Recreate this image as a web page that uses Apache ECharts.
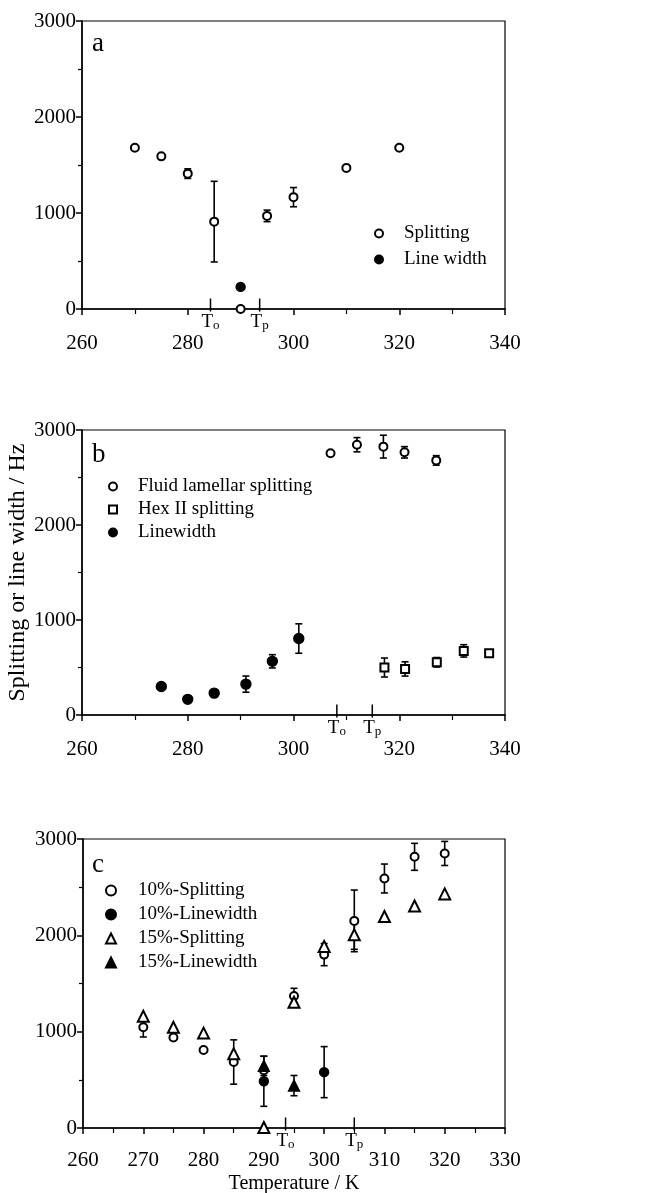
<!DOCTYPE html>
<html>
<head>
<meta charset="utf-8">
<script src="https://cdn.jsdelivr.net/npm/echarts@6/dist/echarts.min.js"></script>
<style>
  html, body { margin: 0; padding: 0; background: #fff; }
  #chart { width: 652px; height: 1193px; }
</style>
</head>
<body>
<div id="chart"></div>
<script>
// each point: [temperature, value, error half-height (0 = none)]
// panel a
const aSplitting = [[270,1680,0],[275,1590,0],[280,1410,50],[285,910,420],[290,0,0],[295,970,60],[300,1165,100],[310,1470,0],[320,1680,0]];
const aLineWidth = [[290,230,0]];
const aMarks = [[284.3,'o'],[293.6,'p']];

// panel b
const bFluid = [[307,2755,0],[312,2845,75],[317,2825,120],[321,2765,60],[327,2680,50]];
const bHex = [[317.2,500,100],[321.1,485,75],[327.1,555,50],[332.2,675,65],[337,650,0]];
const bLinewidth = [[275,300,0],[280,165,0],[285,230,0],[291,325,85],[296,565,70],[301,805,155]];
const bMarks = [[308.2,'o'],[314.9,'p']];

// panel c
const c10Split = [[270,1045,100],[275,940,0],[280,810,0],[285,685,230],[290,600,0],[295,1370,80],[300,1800,115],[305,2150,320],[310,2590,150],[315,2815,140],[320,2850,125]];
const c10Width = [[290,485,260],[300,580,265]];
const c15Split = [[270,1160,0],[275,1045,0],[280,985,0],[285,770,0],[290,5,0],[295,1305,0],[300,1885,0],[305,2005,150],[310,2195,0],[315,2305,0],[320,2430,0]];
const c15Width = [[290,645,100],[295,440,105]];
const cMarks = [[293.6,'o'],[305,'p']];

const FONT = 'Liberation Serif';
const INK = '#000';

function errorBars(data, gi) {
  return {
    type: 'custom', xAxisIndex: gi, yAxisIndex: gi, silent: true, z: 1,
    encode: { x: 0, y: 1 },
    data: data.filter(d => d[2] > 0),
    renderItem: (params, api) => {
      const x = api.value(0), y = api.value(1), e = api.value(2);
      const hi = api.coord([x, y + e]);
      const lo = api.coord([x, y - e]);
      const w = 3.5;
      const st = { stroke: INK, lineWidth: 1.6 };
      return {
        type: 'group', children: [
          { type: 'line', shape: { x1: hi[0], y1: hi[1], x2: lo[0], y2: lo[1] }, style: st },
          { type: 'line', shape: { x1: hi[0] - w, y1: hi[1], x2: hi[0] + w, y2: hi[1] }, style: st },
          { type: 'line', shape: { x1: lo[0] - w, y1: lo[1], x2: lo[0] + w, y2: lo[1] }, style: st }
        ]
      };
    }
  };
}

function points(name, data, gi, symbol, size) {
  return {
    name, type: 'scatter', xAxisIndex: gi, yAxisIndex: gi, z: 3, silent: true,
    data: data.map(d => [d[0], d[1]]),
    symbol, symbolSize: size,
    itemStyle: { color: INK, borderColor: INK, borderWidth: 1.4, opacity: 1 }
  };
}

// transition temperature markers To / Tp on the x axis
function tMarks(data, gi) {
  return {
    type: 'scatter', xAxisIndex: gi, yAxisIndex: gi, z: 4, silent: true,
    data: data.map(d => ({ value: [d[0], 0], sub: d[1] })),
    symbol: 'rect', symbolSize: [1.5, 13], symbolOffset: [0, -4],
    itemStyle: { color: INK, opacity: 1 },
    label: {
      show: true, position: 'bottom', distance: 1,
      formatter: p => '{t|T}{s|' + p.data.sub + '}',
      rich: {
        t: { fontFamily: FONT, fontSize: 19, color: INK, lineHeight: 20 },
        s: { fontFamily: FONT, fontSize: 13, color: INK, verticalAlign: 'bottom', lineHeight: 20 }
      }
    }
  };
}

function xAxis(gi, max, name) {
  return {
    gridIndex: gi, type: 'value', min: 260, max: max, interval: max === 340 ? 20 : 10,
    name: name || '', nameLocation: 'middle', nameGap: 46, nameMoveOverlap: false,
    nameTextStyle: { fontFamily: FONT, fontSize: 20, color: INK },
    axisLine: { onZero: false, lineStyle: { color: INK, width: 1.5 } },
    axisTick: { length: 6, lineStyle: { color: INK, width: 1.5 } },
    minorTick: { show: true, splitNumber: 2, length: 5, lineStyle: { color: INK, width: 1.2 } },
    axisLabel: { fontFamily: FONT, fontSize: 21, color: INK, margin: gi === 2 ? 22 : 24, formatter: v => String(v) },
    splitLine: { show: false }
  };
}

function yAxis(gi, name) {
  return {
    gridIndex: gi, type: 'value', min: 0, max: 3000, interval: 1000,
    name: name || '', nameLocation: 'middle', nameGap: 52, nameMoveOverlap: false,
    nameTextStyle: { fontFamily: FONT, fontSize: 24, color: INK },
    axisLine: { lineStyle: { color: INK, width: 1.5 } },
    axisTick: { length: 6, lineStyle: { color: INK, width: 1.5 } },
    minorTick: { show: true, splitNumber: 2, length: 4, lineStyle: { color: INK, width: 1.2 } },
    axisLabel: { fontFamily: FONT, fontSize: 21, color: INK, margin: 6, formatter: v => String(v) },
    splitLine: { show: false }
  };
}

// iconX = centre of the marker, textX = start of the text
function legend(names, icons, iconX, top, gap, textX, size) {
  return {
    orient: 'vertical', left: iconX - size / 2, top, itemGap: gap, padding: 0,
    itemWidth: size, itemHeight: size, selectedMode: false, symbolKeepAspect: true,
    textStyle: { fontFamily: FONT, fontSize: 19, color: INK, lineHeight: 19, padding: [0, 0, 0, textX - iconX - size / 2 - 5] },
    data: names.map((n, i) => ({ name: n, icon: icons[i] }))
  };
}

function panelLabel(text, top) {
  return { text, left: 92, top, padding: 0, textStyle: { fontFamily: FONT, fontSize: 27, fontWeight: 'normal', color: INK } };
}

const grid = { left: 82, right: 147, outerBoundsMode: 'none', show: true, borderColor: INK, borderWidth: 1.2, backgroundColor: 'transparent' };

const chart = echarts.init(document.getElementById('chart'));
chart.setOption({
  animation: false,
  backgroundColor: '#fff',
  title: [panelLabel('a', 30), panelLabel('b', 441), panelLabel('c', 851)],
  grid: [
    Object.assign({}, grid, { top: 21, height: 288 }),
    Object.assign({}, grid, { top: 430, height: 285 }),
    Object.assign({}, grid, { top: 839, height: 289, left: 83, right: 147 })
  ],
  xAxis: [xAxis(0, 340), xAxis(1, 340), xAxis(2, 330, 'Temperature / K')],
  yAxis: [yAxis(0), yAxis(1, 'Splitting or line width / Hz'), yAxis(2)],
  legend: [
    legend(['Splitting', 'Line width'], ['emptyCircle', 'circle'], 378, 224, 7, 403, 8),
    legend(['Fluid lamellar splitting', 'Hex II splitting', 'Linewidth'], ['emptyCircle', 'emptyRect', 'circle'], 112, 477, 4, 137, 8),
    legend(['10%-Splitting', '10%-Linewidth', '15%-Splitting', '15%-Linewidth'], ['emptyCircle', 'circle', 'emptyTriangle', 'triangle'], 110, 881, 5, 137, 10)
  ],
  series: [
    errorBars(aSplitting, 0),
    points('Splitting', aSplitting, 0, 'emptyCircle', 8),
    points('Line width', aLineWidth, 0, 'circle', 9),
    tMarks(aMarks, 0),

    errorBars(bFluid, 1),
    errorBars(bHex, 1),
    errorBars(bLinewidth, 1),
    points('Fluid lamellar splitting', bFluid, 1, 'emptyCircle', 8),
    points('Hex II splitting', bHex, 1, 'emptyRect', 8),
    points('Linewidth', bLinewidth, 1, 'circle', 10),
    tMarks(bMarks, 1),

    errorBars(c10Split, 2),
    errorBars(c10Width, 2),
    errorBars(c15Split, 2),
    errorBars(c15Width, 2),
    points('10%-Splitting', c10Split, 2, 'emptyCircle', 8),
    points('10%-Linewidth', c10Width, 2, 'circle', 9),
    points('15%-Splitting', c15Split, 2, 'emptyTriangle', 11),
    points('15%-Linewidth', c15Width, 2, 'triangle', 11),
    tMarks(cMarks, 2)
  ]
});
</script>
</body>
</html>
